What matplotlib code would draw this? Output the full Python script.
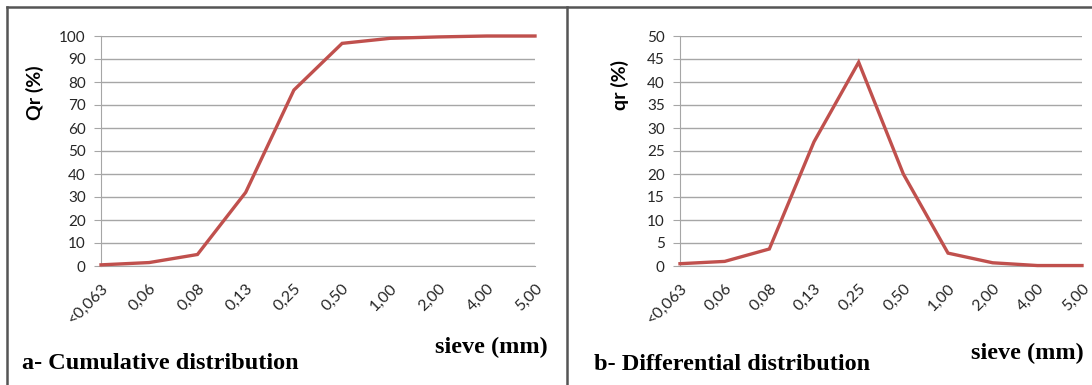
import matplotlib
matplotlib.use("Agg")
import matplotlib.pyplot as plt
from matplotlib.lines import Line2D

sieves = ["<0,063", "0,06", "0,08", "0,13", "0,25", "0,50", "1,00", "2,00", "4,00", "5,00"]
cumulative = [0.5, 1.5, 5.0, 32.0, 76.5, 96.8, 99.0, 99.6, 100.0, 100.0]
differential = [0.5, 1.0, 3.7, 27.0, 44.3, 20.0, 2.8, 0.7, 0.1, 0.1]

W, H = 1092, 385
fig = plt.figure(figsize=(W / 100, H / 100), dpi=100)

RED = "#C0504D"
GRID = "#A6A6A6"
TXT = "#262626"

def fx(x):
    return x / W

def fy(y):
    return 1 - y / H

def setup(ax, vals, ymax, ystep):
    x = list(range(len(sieves)))
    ax.plot(x, vals, color=RED, lw=2.4, solid_joinstyle="miter", zorder=3, clip_on=False)
    ax.set_xlim(0, len(sieves) - 1)
    ax.set_ylim(0, ymax)
    ax.set_yticks(range(0, ymax + 1, ystep))
    ax.set_xticks(x)
    ax.set_xticklabels(sieves, rotation=45, ha="right", va="top", rotation_mode="anchor")
    ax.grid(axis="y", color=GRID, lw=1.0)
    ax.set_axisbelow(True)
    for s in ["top", "right"]:
        ax.spines[s].set_visible(False)
    ax.spines["left"].set_color(GRID)
    ax.spines["bottom"].set_color(GRID)
    ax.tick_params(axis="y", length=5, color=GRID, labelsize=11, labelcolor=TXT, pad=6)
    ax.tick_params(axis="x", length=0, labelsize=11.5, labelcolor=TXT, pad=11)
    for lab in ax.get_xticklabels() + ax.get_yticklabels():
        lab.set_family("Lato")
    ax.patch.set_alpha(0)

ax1 = fig.add_axes([fx(101), fy(266), fx(535 - 101), (266 - 36) / H])
setup(ax1, cumulative, 100, 10)
ax2 = fig.add_axes([fx(680), fy(266), fx(1082 - 680), (266 - 36) / H])
setup(ax2, differential, 50, 5)

fig.text(fx(35), fy(93), "Qr (%)", rotation=90, ha="center", va="center",
         fontsize=14, fontweight="bold", family="Lato", color="black")
fig.text(fx(620), fy(85), "qr (%)", rotation=90, ha="center", va="center",
         fontsize=14, fontweight="bold", family="Lato", color="black")

serif = "Liberation Serif"
fig.text(fx(548), fy(353), "sieve (mm)", ha="right", va="baseline",
         fontsize=17.5, fontweight="bold", family=serif, color="black")
fig.text(fx(1084), fy(359), "sieve (mm)", ha="right", va="baseline",
         fontsize=17.5, fontweight="bold", family=serif, color="black")
fig.text(fx(22), fy(369), "a- Cumulative distribution", ha="left", va="baseline",
         fontsize=17.5, fontweight="bold", family=serif, color="black")
fig.text(fx(594), fy(370), "b- Differential distribution", ha="left", va="baseline",
         fontsize=17.5, fontweight="bold", family=serif, color="black")

# panel frame
BORDER = "#555555"
fig.add_artist(Line2D([fx(7), 1], [fy(7), fy(7)], color=BORDER, lw=1.8, transform=fig.transFigure))
fig.add_artist(Line2D([fx(7), fx(7)], [fy(7), 0], color=BORDER, lw=1.8, transform=fig.transFigure))
fig.add_artist(Line2D([fx(567), fx(567)], [fy(7), 0], color=BORDER, lw=1.8, transform=fig.transFigure))

fig.savefig("out.png", dpi=100)
